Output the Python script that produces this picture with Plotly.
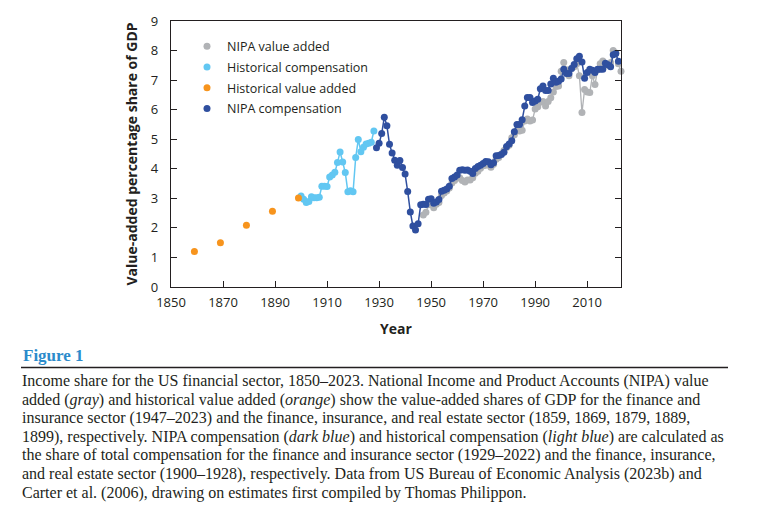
import plotly.graph_objects as go

# ---------------- data ----------------
hist_va_years = [1859, 1869, 1879, 1889, 1899]
hist_va_values = [1.20, 1.50, 2.09, 2.56, 3.01]

hist_comp_years = list(range(1900, 1929))
hist_comp_values = [3.08, 2.97, 2.86, 2.89, 3.05, 3.02, 3.02, 3.04, 3.41, 3.41,
                    3.40, 3.72, 3.79, 3.88, 4.21, 4.57, 4.23, 3.87, 3.22, 3.26,
                    3.22, 4.38, 4.99, 4.58, 4.73, 4.84, 4.86, 4.90, 5.28]

nipa_comp_years = list(range(1929, 2023))
nipa_comp_values = [4.71, 4.86, 5.19, 5.74, 5.46, 4.83, 4.53, 4.29, 4.12, 4.28,
                    4.04, 3.82, 3.23, 2.54, 2.06, 1.93, 2.14, 2.78, 2.80, 2.79,
                    2.97, 2.99, 2.83, 2.88, 2.96, 3.24, 3.27, 3.32, 3.41, 3.67,
                    3.72, 3.79, 3.95, 3.97, 3.95, 3.96, 3.92, 3.84, 4.01, 4.08,
                    4.12, 4.18, 4.25, 4.24, 4.14, 4.20, 4.44, 4.45, 4.48, 4.56,
                    4.75, 4.84, 4.95, 5.25, 5.50, 5.50, 5.66, 6.12, 6.41, 6.41,
                    6.24, 6.29, 6.35, 6.71, 6.80, 6.65, 6.65, 6.87, 7.06, 6.93,
                    6.96, 7.04, 7.37, 7.22, 7.22, 7.39, 7.53, 7.72, 7.81, 7.61,
                    7.06, 7.26, 7.37, 7.33, 7.26, 7.37, 7.37, 7.37, 7.57, 7.52,
                    7.45, 7.86, 7.90, 7.64]

nipa_va_years = list(range(1947, 2024))
nipa_va_values = [2.44, 2.53, 2.78, 2.85, 2.68, 2.80, 2.86, 3.10, 3.18, 3.25,
                  3.35, 3.52, 3.60, 3.68, 3.70, 3.60, 3.55, 3.62, 3.62, 3.70,
                  3.85, 3.92, 4.02, 4.10, 4.12, 4.18, 4.05, 4.15, 4.32, 4.38,
                  4.50, 4.62, 4.72, 4.80, 5.05, 5.15, 5.30, 5.28, 5.30, 5.62,
                  5.68, 5.62, 5.65, 6.02, 6.10, 6.25, 6.28, 6.12, 6.28, 6.40,
                  6.60, 6.78, 6.80, 7.30, 7.60, 7.35, 7.15, 7.40, 7.45, 7.55,
                  7.15, 5.90, 6.68, 6.60, 6.58, 7.15, 6.85, 7.35, 7.55, 7.65,
                  7.55, 7.50, 7.60, 8.00, 7.92, 7.55, 7.30]

x_tick_values = [1850, 1870, 1890, 1910, 1930, 1950, 1970, 1990, 2010]
y_tick_values = [0, 1, 2, 3, 4, 5, 6, 7, 8, 9]

legend_names = ["NIPA value added", "Historical compensation",
                "Historical value added", "NIPA compensation"]

caption_lines = [
    "Income share for the US financial sector, 1850–2023. National Income and Product Accounts (NIPA) value",
    "added (<i>gray</i>) and historical value added (<i>orange</i>) show the value-added shares of GDP for the finance and",
    "insurance sector (1947–2023) and the finance, insurance, and real estate sector (1859, 1869, 1879, 1889,",
    "1899), respectively. NIPA compensation (<i>dark blue</i>) and historical compensation (<i>light blue</i>) are calculated as",
    "the share of total compensation for the finance and insurance sector (1929–2022) and the finance, insurance,",
    "and real estate sector (1900–1928), respectively. Data from US Bureau of Economic Analysis (2023b) and",
    "Carter et al. (2006), drawing on estimates first compiled by Thomas Philippon.",
]

# ---------------- style ----------------
GRAY = "#b1b3b6"
LIGHT = "#62c7f2"
ORANGE = "#f7941d"
DARK = "#2f4f9f"
colors = [GRAY, LIGHT, ORANGE, DARK]
TXT = "#231f20"
SANS = "Open Sans"
SERIF = "Liberation Serif"

W, H = 779, 507
L, R, T, B = 171, 158, 14, 220
PW, PH = W - L - R, H - T - B


def px_x(p):
    return (p - L) / PW


def px_y(p):
    return (H - B - p) / PH


fig = go.Figure()

fig.add_trace(go.Scatter(x=nipa_va_years, y=nipa_va_values, mode="lines+markers",
                         line=dict(color=GRAY, width=1.3), marker=dict(color=GRAY, size=7),
                         showlegend=False, cliponaxis=False))
fig.add_trace(go.Scatter(x=hist_comp_years, y=hist_comp_values, mode="lines+markers",
                         line=dict(color=LIGHT, width=1.5), marker=dict(color=LIGHT, size=7),
                         showlegend=False, cliponaxis=False))
fig.add_trace(go.Scatter(x=hist_va_years, y=hist_va_values, mode="markers",
                         marker=dict(color=ORANGE, size=7),
                         showlegend=False, cliponaxis=False))
fig.add_trace(go.Scatter(x=nipa_comp_years, y=nipa_comp_values, mode="lines+markers",
                         line=dict(color=DARK, width=1.5), marker=dict(color=DARK, size=7),
                         showlegend=False, cliponaxis=False))

for i, (name, c) in enumerate(zip(legend_names, colors)):
    fig.add_trace(go.Scatter(x=[None], y=[None], mode="markers", name=name,
                             legendgroup=f"g{i}", marker=dict(color=c, size=7)))

axis_common = dict(showgrid=False, zeroline=False, showline=True, linecolor=TXT,
                   linewidth=1.3, ticks="inside", ticklen=6, tickwidth=1,
                   tickcolor=TXT, tickfont=dict(family=SANS, size=13, color=TXT))

fig.update_xaxes(range=[1850, 2023], tickvals=x_tick_values, mirror=True,
                 ticklabelstandoff=3,
                 title=dict(text="<b>Year</b>", standoff=14,
                            font=dict(family=SANS, size=14, color=TXT)),
                 **axis_common)
fig.update_yaxes(range=[0, 9], tickvals=y_tick_values, mirror="ticks",
                 ticklabelstandoff=9,
                 title=dict(text="<b>Value-added percentage share of GDP</b>", standoff=9,
                            font=dict(family=SANS, size=14, color=TXT)),
                 **axis_common)

annotations = [
    dict(text="<b>Figure 1</b>", xref="paper", yref="paper", x=px_x(21), y=px_y(357),
         xanchor="left", yanchor="middle", showarrow=False,
         font=dict(family=SERIF, size=17, color="#2b8bcb")),
]
for i, line in enumerate(caption_lines):
    annotations.append(dict(text=line, xref="paper", yref="paper", x=px_x(20),
                            y=px_y(383.5 + 19.1 * i), xanchor="left", yanchor="middle",
                            showarrow=False, font=dict(family=SERIF, size=16, color=TXT)))

fig.update_layout(
    width=W, height=H,
    margin=dict(l=L, r=R, t=T, b=B, pad=0),
    paper_bgcolor="white", plot_bgcolor="white",
    font=dict(family=SANS, color=TXT),
    legend=dict(x=px_x(187), y=px_y(25), xanchor="left", yanchor="top",
                traceorder="grouped", tracegroupgap=1.5,
                bgcolor="rgba(0,0,0,0)", font=dict(family=SANS, size=12.5, color=TXT)),
    annotations=annotations,
    shapes=[dict(type="line", xref="paper", yref="paper", x0=px_x(21), x1=px_x(728),
                 y0=px_y(369.5), y1=px_y(369.5), line=dict(color="#231f20", width=1.5))],
)

fig.write_html("out.html")
